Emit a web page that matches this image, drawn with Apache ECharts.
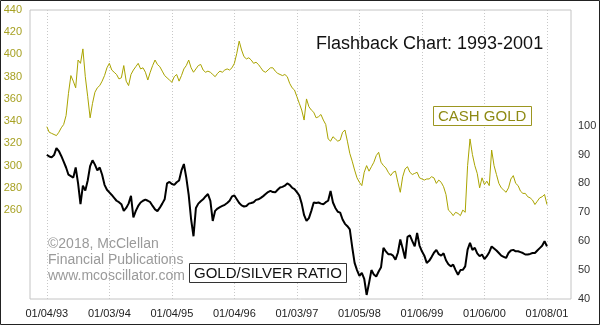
<!DOCTYPE html>
<html><head><meta charset="utf-8">
<script src="https://cdn.jsdelivr.net/npm/echarts@6/dist/echarts.min.js"></script>
<style>html,body{margin:0;padding:0;background:#fff}#c{width:600px;height:325px}</style>
</head><body><div id="c"></div>
<script>
const tickLabels = ['01/04/93','01/03/94','01/04/95','01/04/96','01/03/97','01/05/98','01/06/99','01/06/00','01/08/01'];
// Cash gold ($/oz), roughly biweekly samples from 01/04/93
const gold = [
335,330,329,328,327,330,334,337,345,365,381,376,370,395,392,405,380,362,343,356,366,370,372,376,381,388,392,
386,384,382,378,379,390,376,372,382,386,389,392,387,388,384,377,384,390,395,391,389,385,381,379,377,375,
380,382,376,381,387,390,395,388,384,387,390,391,386,384,385,384,382,380,383,385,384,386,387,386,388,392,
401,412,404,398,396,397,395,392,393,391,388,385,384,386,388,388,385,383,382,381,382,380,374,370,368,362,
356,350,341,360,353,350,348,343,344,346,341,337,324,322,326,324,322,323,330,332,322,311,304,296,289,285,
282,294,300,295,299,303,309,312,303,300,298,294,291,294,295,285,276,290,297,299,294,292,293,294,289,288,
287,288,288,290,289,284,287,285,281,274,260,258,255,258,257,255,260,258,300,324,310,300,293,280,289,283,
286,282,314,300,292,284,280,278,276,280,288,291,284,282,277,275,275,272,271,269,265,268,271,272,274,265
];
// Gold/silver ratio, same sampling
const ratio = [
89.9,89.3,89.0,89.8,92.2,91.2,89.5,87.5,85.5,83,82.5,82,85.5,80,72.8,79.2,77.5,81,86,88,86.5,84.5,85.5,83,79.5,77.8,76.9,
76,75,74,73.5,72.8,70.5,71.5,73,75.7,68.2,70.5,72.2,73.4,74,74.4,74,73.5,72.2,71,70.4,71.6,73,74.5,80,80.5,79.8,
79.5,80.4,81,84.5,86.7,82,76,67.6,61.7,71.5,73,73.8,74.5,75.5,76.3,74,67,70.5,71.3,71.8,72.2,72.6,73.2,74,75.5,75.8,
74.5,73.2,72.4,72,72.2,73,73.2,73.5,74.3,74.5,75,75.6,76.3,77,77.4,77,76.9,77.8,78.6,78.8,79.2,80,79.5,78.5,78,77,
75.8,73,69,67,68,70.5,73.4,73.2,73.4,73,72.8,73.5,74,77.4,73.4,71.5,70.2,69.9,67.5,66,65.2,64.1,58,52.5,50,48,
49,47,41.4,45.5,50,48.5,47.8,49.5,51,57.7,56.5,55.5,55.5,55,53.6,56,60.6,57.5,54,61.5,62,60,58.2,62.9,58.5,56.5,
55,52.5,53.2,54.5,56,57,55.5,55,55.8,53.4,52,51.3,51.9,50,48.4,50,50.1,51.3,57.1,59.4,57,57.7,55.8,54.8,55.4,53.8,
54.8,56.2,58.2,57.5,56.8,55.9,55,54.6,54.2,55.9,56.8,57,56.5,56.5,56.2,55.9,55.4,55.4,55.6,55.9,55.9,56.8,57.6,58.4,60,58.2
];
const PAD_L = 7, PAD_R = 10, PER_YEAR = 26;

const N = PAD_L + gold.length + PAD_R;
const cats = Array.from({length: N}, (_, i) => String(i));
const pad = (arr) => Array(PAD_L).fill(null).concat(arr, Array(PAD_R).fill(null));
const isYear = (i) => i >= PAD_L && (i - PAD_L) % PER_YEAR === 0 && (i - PAD_L) / PER_YEAR < tickLabels.length;

const FONT = "'Liberation Sans', Arial, sans-serif";
const OLIVE = '#a7a123';
const chart = echarts.init(document.getElementById('c'), null, {renderer: 'canvas'});
chart.setOption({
  animation: false,
  backgroundColor: '#fff',
  textStyle: {fontFamily: FONT},
  grid: {left: 30, right: 29, top: 10, bottom: 26, show: true, borderColor: '#c4c4c4', borderWidth: 1, backgroundColor: 'transparent'},
  title: [
    {text: 'Flashback Chart: 1993-2001', left: 316, top: 35, padding: 0,
     textStyle: {fontSize: 18, fontWeight: 'normal', color: '#111', fontFamily: FONT}},
    {text: 'CASH GOLD', left: 433, top: 106, padding: [3, 5, 2, 5], borderColor: '#9c9620', borderWidth: 1, backgroundColor: '#fff',
     textStyle: {fontSize: 15, fontWeight: 'normal', color: '#8e8a14', fontFamily: FONT}},
    {text: 'GOLD/SILVER RATIO', left: 189, top: 263, padding: [3, 5, 2, 5], borderColor: '#333', borderWidth: 1, backgroundColor: '#fff',
     textStyle: {fontSize: 15, fontWeight: 'normal', color: '#111', fontFamily: FONT}},
    {text: '©2018, McClellan\nFinancial Publications\nwww.mcoscillator.com', left: 48, top: 236, padding: 0,
     textStyle: {fontSize: 14, lineHeight: 16, fontWeight: 'normal', color: '#9a9a9a', fontFamily: FONT}}
  ],
  graphic: [{type: 'rect', shape: {x: 0.5, y: 0.5, width: 599, height: 324}, style: {fill: 'none', stroke: '#222', lineWidth: 1}, silent: true}],
  xAxis: {
    type: 'category', data: cats, boundaryGap: false,
    axisLine: {show: false}, axisTick: {show: false},
    axisLabel: {interval: (i) => isYear(i), formatter: (v, i) => tickLabels[(i - PAD_L) / PER_YEAR],
      color: '#222', fontSize: 11, margin: 9, fontFamily: FONT},
    splitLine: {show: true, interval: (i) => isYear(i), lineStyle: {color: '#c8c8c8', type: [1, 2], width: 1}}
  },
  yAxis: [
    {type: 'value', min: 180, max: 440, interval: 20, position: 'left',
     axisLine: {show: false}, axisTick: {show: false}, splitLine: {show: false},
     axisLabel: {color: OLIVE, fontSize: 11, margin: 8, fontFamily: FONT, formatter: (v) => v >= 260 ? String(v) : ''}},
    {type: 'value', min: 40, max: 140, interval: 10, position: 'right',
     axisLine: {show: false}, axisTick: {show: false}, splitLine: {show: false},
     axisLabel: {color: '#333', fontSize: 11, margin: 7, fontFamily: FONT, formatter: (v) => v <= 100 ? String(v) : ''}}
  ],
  series: [
    {name: 'Cash Gold', type: 'line', yAxisIndex: 0, data: pad(gold), showSymbol: false, connectNulls: false,
     lineStyle: {color: '#aaa400', width: 1}, itemStyle: {color: '#aaa400'}, z: 3},
    {name: 'Gold/Silver Ratio', type: 'line', yAxisIndex: 1, data: pad(ratio), showSymbol: false, connectNulls: false,
     lineStyle: {color: '#000', width: 2}, itemStyle: {color: '#000'}, z: 4}
  ]
});
</script></body></html>
